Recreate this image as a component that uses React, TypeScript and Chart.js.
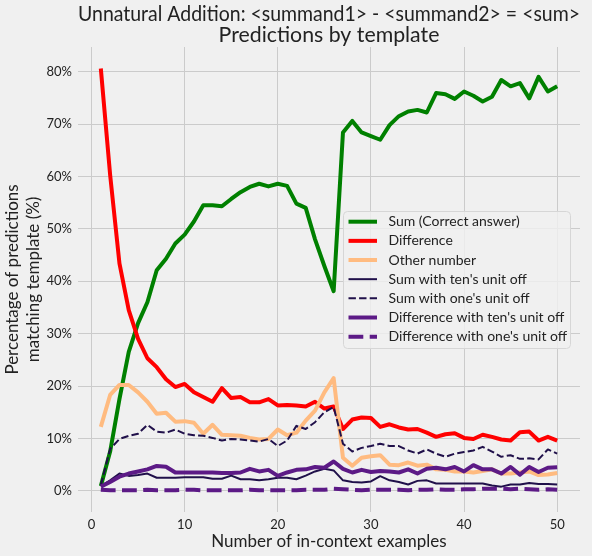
import { useEffect, useRef } from 'react';
import { Chart, registerables } from 'chart.js';

Chart.register(...registerables);

const steps = Array.from({ length: 50 }, (_, i) => i + 1);

const sumCorrect = [
  0.9, 7.5, 17.5, 26.5, 32.0, 36.0, 42.1, 44.3, 47.2, 48.9,
  51.4, 54.5, 54.5, 54.3, 55.7, 57.0, 58.0, 58.6, 58.1, 58.6,
  58.2, 54.8, 54.0, 48.0, 42.9, 38.1, 68.4, 70.6, 68.4, 67.7,
  67.0, 69.8, 71.5, 72.4, 72.7, 72.2, 75.9, 75.7, 74.8, 76.2,
  75.4, 74.3, 75.2, 78.4, 77.2, 77.8, 74.9, 79.0, 76.2, 77.2,
];
const difference = [
  80.6, 60.3, 43.4, 34.5, 29.0, 25.3, 23.6, 21.3, 19.8, 20.4,
  18.8, 17.9, 17.0, 19.6, 17.7, 17.9, 16.9, 16.9, 17.5, 16.3,
  16.4, 16.3, 16.1, 17.0, 15.7, 16.1, 11.8, 13.6, 14.0, 13.9,
  12.2, 12.7, 12.1, 11.7, 11.8, 11.1, 10.3, 10.8, 11.0, 10.1,
  9.9, 10.7, 10.3, 9.8, 9.6, 11.2, 11.3, 9.6, 10.3, 9.6,
];
const otherNumber = [
  12.2, 18.3, 20.2, 20.2, 18.8, 17.0, 14.7, 14.9, 13.2, 13.3,
  13.0, 10.9, 12.6, 10.7, 10.6, 10.5, 10.1, 9.8, 9.9, 11.7,
  10.6, 11.1, 13.4, 15.3, 18.8, 21.5, 6.3, 4.8, 6.3, 6.6,
  6.8, 5.0, 4.9, 5.4, 4.8, 5.0, 4.1, 4.0, 3.7, 3.7,
  3.5, 3.8, 4.1, 3.3, 3.3, 3.5, 3.7, 3.0, 3.1, 3.4,
];
const sumTensOff = [
  0.9, 2.0, 3.3, 2.85, 3.0, 3.3, 2.5, 2.5, 2.5, 2.6,
  2.6, 2.6, 2.3, 2.3, 2.9, 2.2, 2.2, 2.0, 2.2, 2.5,
  2.5, 2.2, 2.9, 3.7, 4.2, 3.9, 2.0, 1.7, 1.6, 1.8,
  2.8, 2.0, 1.7, 1.2, 1.9, 2.0, 1.4, 1.4, 1.4, 1.4,
  1.4, 1.4, 1.0, 0.8, 1.2, 1.2, 1.5, 1.3, 1.3, 1.2,
];
const sumOnesOff = [
  1.1, 8.0, 9.9, 10.5, 10.9, 12.6, 11.3, 11.1, 11.7, 10.9,
  10.6, 10.5, 10.1, 9.6, 9.9, 9.8, 9.6, 9.4, 9.9, 8.55,
  9.6, 12.4, 11.8, 13.1, 15.0, 16.0, 9.0, 7.5, 8.2, 8.55,
  9.0, 8.55, 8.55, 7.7, 7.1, 7.9, 7.1, 6.5, 7.1, 7.4,
  7.7, 8.4, 7.5, 6.5, 6.8, 6.1, 6.2, 6.0, 7.9, 7.1,
];
const diffTensOff = [
  0.8, 1.7, 2.7, 3.3, 3.7, 4.1, 4.75, 4.6, 3.5, 3.5,
  3.5, 3.5, 3.5, 3.4, 3.4, 3.5, 4.2, 3.7, 4.0, 2.85,
  3.5, 4.0, 4.1, 4.55, 4.4, 5.6, 4.2, 3.5, 4.0, 3.6,
  3.8, 3.7, 3.5, 4.1, 3.3, 4.2, 4.4, 4.1, 4.55, 3.7,
  4.9, 4.1, 4.1, 3.3, 4.55, 3.1, 4.55, 3.6, 4.4, 4.5,
];
const diffOnesOff = [
  0.2, 0.1, 0.1, 0.1, 0.1, 0.2, 0.1, 0.1, 0.1, 0.2,
  0.2, 0.1, 0.1, 0.1, 0.1, 0.1, 0.2, 0.1, 0.1, 0.1,
  0.1, 0.1, 0.2, 0.2, 0.2, 0.4, 0.3, 0.2, 0.1, 0.2,
  0.2, 0.2, 0.2, 0.1, 0.2, 0.2, 0.3, 0.2, 0.2, 0.3,
  0.3, 0.4, 0.4, 0.4, 0.3, 0.4, 0.3, 0.2, 0.3, 0.2,
];

const xTicks = [0, 10, 20, 30, 40, 50];
const yTicks = [0, 10, 20, 30, 40, 50, 60, 70, 80];
const titleLines = ['Unnatural Addition: <summand1> - <summand2> = <sum>', 'Predictions by template'];
const yTitleLines = ['Percentage of predictions', 'matching template (%)'];

const series = [
  { label: 'Sum (Correct answer)', data: sumCorrect, color: '#008000', width: 4, dash: [] as number[] },
  { label: 'Difference', data: difference, color: '#ff0000', width: 4, dash: [] as number[] },
  { label: 'Other number', data: otherNumber, color: '#ffbb80', width: 4, dash: [] as number[] },
  { label: "Sum with ten's unit off", data: sumTensOff, color: '#20104a', width: 2, dash: [] as number[] },
  { label: "Sum with one's unit off", data: sumOnesOff, color: '#20104a', width: 2, dash: [7.4, 3.2] },
  { label: "Difference with ten's unit off", data: diffTensOff, color: '#5c1a86', width: 4, dash: [] as number[] },
  { label: "Difference with one's unit off", data: diffOnesOff, color: '#5c1a86', width: 4, dash: [14.8, 6.4] },
];

const FONT = 'Lato';

const overlay = {
  id: 'overlay',
  afterDraw(chart: any) {
    const ctx: CanvasRenderingContext2D = chart.ctx;
    const area = chart.chartArea;
    ctx.save();
    // y axis title, two lines
    ctx.fillStyle = '#222222';
    ctx.font = `17px ${FONT}`;
    ctx.textAlign = 'center';
    ctx.textBaseline = 'middle';
    const cy = (area.top + area.bottom) / 2;
    yTitleLines.forEach((line, i) => {
      ctx.save();
      ctx.translate(13 + i * 20.5, cy);
      ctx.rotate(-Math.PI / 2);
      ctx.fillText(line, 0, 0);
      ctx.restore();
    });

    // legend box
    const bx = 343.5, by = 211.5, bw = 227, bh = 137;
    ctx.beginPath();
    ctx.roundRect(bx, by, bw, bh, 4);
    ctx.fillStyle = 'rgba(240,240,240,0.8)';
    ctx.fill();
    ctx.strokeStyle = '#d6d6d6';
    ctx.lineWidth = 1;
    ctx.stroke();

    ctx.font = `14px ${FONT}`;
    ctx.textAlign = 'left';
    series.forEach((s, i) => {
      const y = 221.7 + i * 19.16;
      ctx.beginPath();
      ctx.setLineDash(s.dash);
      ctx.lineWidth = s.width;
      ctx.strokeStyle = s.color;
      ctx.moveTo(348.5, y);
      ctx.lineTo(377, y);
      ctx.stroke();
      ctx.setLineDash([]);
      ctx.fillStyle = '#222222';
      ctx.fillText(s.label, 388.5, y);
    });
    ctx.restore();
  },
};

export default function App() {
  const canvasRef = useRef<HTMLCanvasElement | null>(null);

  useEffect(() => {
    if (!canvasRef.current) return;
    const chart = new Chart(canvasRef.current, {
      type: 'line',
      data: {
        labels: steps,
        datasets: series.map((s, i) => ({
          label: s.label,
          data: s.data.map((v, j) => ({ x: steps[j], y: v })),
          borderColor: s.color,
          backgroundColor: s.color,
          borderWidth: s.width,
          borderDash: s.dash,
          borderJoinStyle: 'round' as const,
          pointRadius: 0,
          tension: 0,
          fill: false,
          order: series.length - i,
        })),
      },
      options: {
        animation: false,
        responsive: false,
        devicePixelRatio: 1,
        layout: { padding: { left: 0, right: 12, top: 0, bottom: 0 } },
        plugins: {
          legend: { display: false },
          tooltip: { enabled: false },
          title: {
            display: true,
            fullSize: false,
            text: titleLines,
            color: '#222222',
            font: { family: FONT, size: 21.3, lineHeight: 1, weight: 'normal' },
            padding: { top: 3.5, bottom: 0.9 },
          },
        },
        scales: {
          x: {
            type: 'linear',
            min: -1.45,
            max: 52.45,
            afterBuildTicks: (scale: any) => {
              scale.ticks = xTicks.map((v) => ({ value: v }));
            },
            afterFit: (scale: any) => {
              scale.height = 44;
            },
            grid: { color: '#cbcbcb', lineWidth: 1, drawTicks: false },
            border: { display: false },
            ticks: {
              color: '#222222',
              font: { family: FONT, size: 13 },
              padding: 5,
              maxRotation: 0,
            },
            title: {
              display: true,
              text: 'Number of in-context examples',
              color: '#222222',
              font: { family: FONT, size: 17, lineHeight: 1.2 },
              padding: { top: 0, bottom: 4 },
            },
          },
          y: {
            type: 'linear',
            min: -4.04,
            max: 84.7,
            afterBuildTicks: (scale: any) => {
              scale.ticks = yTicks.map((v) => ({ value: v }));
            },
            afterFit: (scale: any) => {
              scale.width = 78;
            },
            grid: { color: '#cbcbcb', lineWidth: 1, drawTicks: false },
            border: { display: false },
            ticks: {
              color: '#222222',
              font: { family: FONT, size: 13 },
              padding: 6,
              callback: (v: any) => `${v}%`,
            },
          },
        },
      },
      plugins: [overlay],
    });
    return () => {
      chart.destroy();
    };
  }, []);

  return (
    <div style={{ position: 'absolute', left: 0, top: 0, width: 592, height: 556, background: '#f0f0f0' }}>
      <canvas ref={canvasRef} width={592} height={556} style={{ display: 'block' }} />
    </div>
  );
}
